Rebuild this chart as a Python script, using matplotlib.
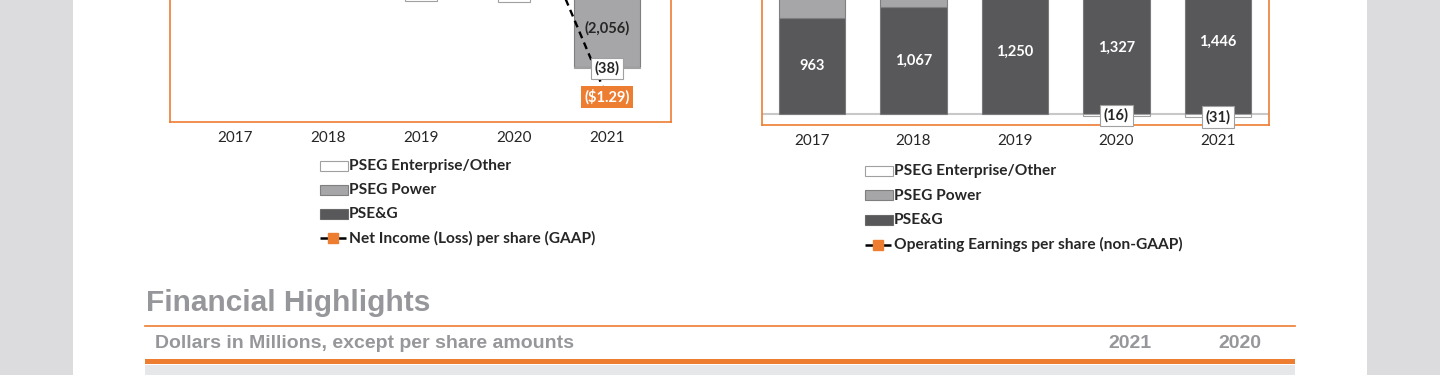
import matplotlib.pyplot as plt
from matplotlib.patches import Rectangle
from matplotlib.lines import Line2D

# -----------------------------
# DATA (values in $ millions, EPS in $)
# -----------------------------
years = ["2017", "2018", "2019", "2020", "2021"]

# left chart: Net Income (Loss)
ni_pseg = [963, 1067, 1250, 1327, 1446]
ni_power = [596, 356, 453, 597, -2056]
ni_other = [15, 15, -10, -19, -38]
ni_eps = [3.10, 2.83, 3.33, 3.76, -1.29]

# right chart: Operating Earnings (non-GAAP)
op_pseg = [963, 1067, 1250, 1327, 1446]
op_power = [510, 512, 464, 532, 421]
op_other = [7, 13, 13, -16, -31]
op_eps = [2.92, 3.12, 3.28, 3.43, 3.65]

legend_left = ["PSEG Enterprise/Other", "PSEG Power", "PSE&G",
               "Net Income (Loss) per share (GAAP)"]
legend_right = ["PSEG Enterprise/Other", "PSEG Power", "PSE&G",
                "Operating Earnings per share (non-GAAP)"]

table_title = "Financial Highlights"
table_note = "Dollars in Millions, except per share amounts"
table_years = ["2021", "2020"]

# -----------------------------
# STYLE
# -----------------------------
W, H = 1440, 375
ORANGE = "#ed7d31"
DARK = "#58585a"
GREY = "#a6a6a8"
TXT = "#262626"
HEAD = "#96979a"
FONT = "Lato"

fig = plt.figure(figsize=(W / 100, H / 100), dpi=100, facecolor="#dcdcde")


def fx(x):
    return x / W


def fy(y):
    return 1 - y / H


def axes_px(x0, x1, y_top, y_bot):
    return fig.add_axes([fx(x0), fy(y_bot), (x1 - x0) / W, (y_bot - y_top) / H])


def lim(zero_px, ppu, top_px, bot_px):
    return (-(bot_px - zero_px) / ppu, (zero_px - top_px) / ppu)


def fmt(v):
    return f"{v:,}" if v >= 0 else f"({-v:,})"


def fmt_eps(v):
    return f"${v:.2f}" if v >= 0 else f"(${-v:.2f})"


# white page
fig.add_artist(Rectangle((fx(73), 0), (1367 - 73) / W, 1, transform=fig.transFigure,
                         fc="white", ec="none", zorder=0))


def draw_chart(ax, pseg, power, other, eps, width, xlim, ylim, eps_lim):
    x = list(range(len(years)))
    pos = [0] * len(x)
    neg = [0] * len(x)
    bottoms = []
    for vals, fc, ec in [(pseg, DARK, "#7a7a7c"), (power, GREY, "#7f7f7f"),
                         (other, "white", "#a0a0a0")]:
        b = [pos[i] if v >= 0 else neg[i] for i, v in enumerate(vals)]
        ax.bar(x, vals, width, bottom=b, color=fc, edgecolor=ec, linewidth=0.8, zorder=2)
        for i, v in enumerate(vals):
            if v >= 0:
                pos[i] += v
            else:
                neg[i] += v
        bottoms.append(b)

    ax.axhline(0, color="#c8c8c8", lw=1.5, zorder=1)
    for i in x:
        ax.text(i, bottoms[0][i] + pseg[i] / 2, fmt(pseg[i]), ha="center", va="center",
                color="white", fontsize=10.5, fontweight="bold", family=FONT, zorder=3)
        ax.text(i, bottoms[1][i] + power[i] / 2, fmt(power[i]), ha="center", va="center",
                color=TXT, fontsize=10.5, fontweight="bold", family=FONT, zorder=3)

    ax.set_xlim(*xlim)
    ax.set_ylim(*ylim)
    ax.set_xticks(x, years)
    ax.set_yticks([])
    ax.tick_params(axis="x", length=0, pad=6.5, labelsize=11, labelcolor=TXT)
    for t in ax.get_xticklabels():
        t.set_family(FONT)
    for s in ax.spines.values():
        s.set_color(ORANGE)
        s.set_linewidth(1.2)

    ax2 = ax.twinx()
    ax2.set_ylim(*eps_lim)
    ax2.set_yticks([])
    for s in ax2.spines.values():
        s.set_visible(False)
    ax2.plot(x, eps, color="black", lw=1.7, ls=(0, (3, 2)), marker="s", ms=7,
             mfc=ORANGE, mec=ORANGE, zorder=3)
    for i, v in enumerate(eps):
        ax2.text(i, v, fmt_eps(v), ha="center", va="center", color="white",
                 fontsize=10.5, fontweight="bold", family=FONT, zorder=4,
                 bbox=dict(boxstyle="square,pad=0.25", fc=ORANGE, ec="none"))
    # enterprise/other labels on top of the line
    for i, v in enumerate(other):
        yv = bottoms[2][i] + v if v < 0 else pos[i] + 60
        ax2.text(i, yv, fmt(v), transform=ax.transData, ha="center",
                 va="center" if v < 0 else "bottom", color=TXT, fontsize=10.5,
                 fontweight="bold", family=FONT, zorder=5,
                 bbox=dict(boxstyle="square,pad=0.25", fc="white", ec="#a0a0a0", lw=0.8))
    return ax2


# left chart: frame 170..671 px, categories at 235 + 93*i
axL = axes_px(170, 671, -200, 122)
draw_chart(axL, ni_pseg, ni_power, ni_other, ni_eps, 0.72,
           ((170 - 235) / 93, (671 - 235) / 93),
           lim(-10, 77 / 2056, -200, 122), lim(40.8, 43.6, -200, 122))

# right chart: frame 762..1269 px, categories at 812 + 101.5*i
axR = axes_px(762, 1269, -200, 125)
draw_chart(axR, op_pseg, op_power, op_other, op_eps, 0.66,
           ((762 - 812) / 101.5, (1269 - 812) / 101.5),
           lim(114, 0.1, -200, 125), (-1.5, 4.2))


def legend_px(x0, y0, step, labels):
    styles = [("white", "#a0a0a0"), (GREY, "#7f7f7f"), (DARK, "#6a6a6a")]
    for k, label in enumerate(labels):
        y = y0 + step * k
        if k < 3:
            fig.add_artist(Rectangle((fx(x0), fy(y + 5)), 28 / W, 10 / H,
                                     transform=fig.transFigure, fc=styles[k][0],
                                     ec=styles[k][1], lw=0.8))
        else:
            fig.add_artist(Line2D([fx(x0), fx(x0 + 27)], [fy(y), fy(y)], color="black",
                                  lw=1.8, ls=(0, (4, 2.4)), transform=fig.transFigure))
            fig.add_artist(Line2D([fx(x0 + 13)], [fy(y)], marker="s", ms=7, mfc=ORANGE,
                                  mec=ORANGE, ls="none", transform=fig.transFigure))
        fig.text(fx(x0 + 29), fy(y), label, ha="left", va="center", color=TXT,
                 fontsize=11.2, fontweight="bold", family=FONT)


legend_px(320, 166, 24, legend_left)
legend_px(865, 171, 24.5, legend_right)

# -----------------------------
# TABLE HEADER
# -----------------------------
fig.text(fx(146), fy(303), table_title, ha="left", va="center", color=HEAD,
         fontsize=21.5, fontweight="bold", family="Liberation Sans")
fig.add_artist(Line2D([fx(145), fx(1295)], [fy(326), fy(326)], color=ORANGE, lw=1.2,
                      transform=fig.transFigure))
fig.text(fx(155), fy(344), table_note, ha="left", va="center", color=HEAD,
         fontsize=14, fontweight="bold", family="Liberation Sans")
for xc, yr in zip([1130, 1240], table_years):
    fig.text(fx(xc), fy(344), yr, ha="center", va="center", color=HEAD,
             fontsize=14, fontweight="bold", family="Liberation Sans")
fig.add_artist(Rectangle((fx(145), fy(364)), 1150 / W, 5 / H, transform=fig.transFigure,
                         fc=ORANGE, ec="none"))
fig.add_artist(Rectangle((fx(145), 0), 1150 / W, 10 / H, transform=fig.transFigure,
                         fc="#e6e7e8", ec="none"))

fig.savefig("out.png", dpi=100, facecolor=fig.get_facecolor())
